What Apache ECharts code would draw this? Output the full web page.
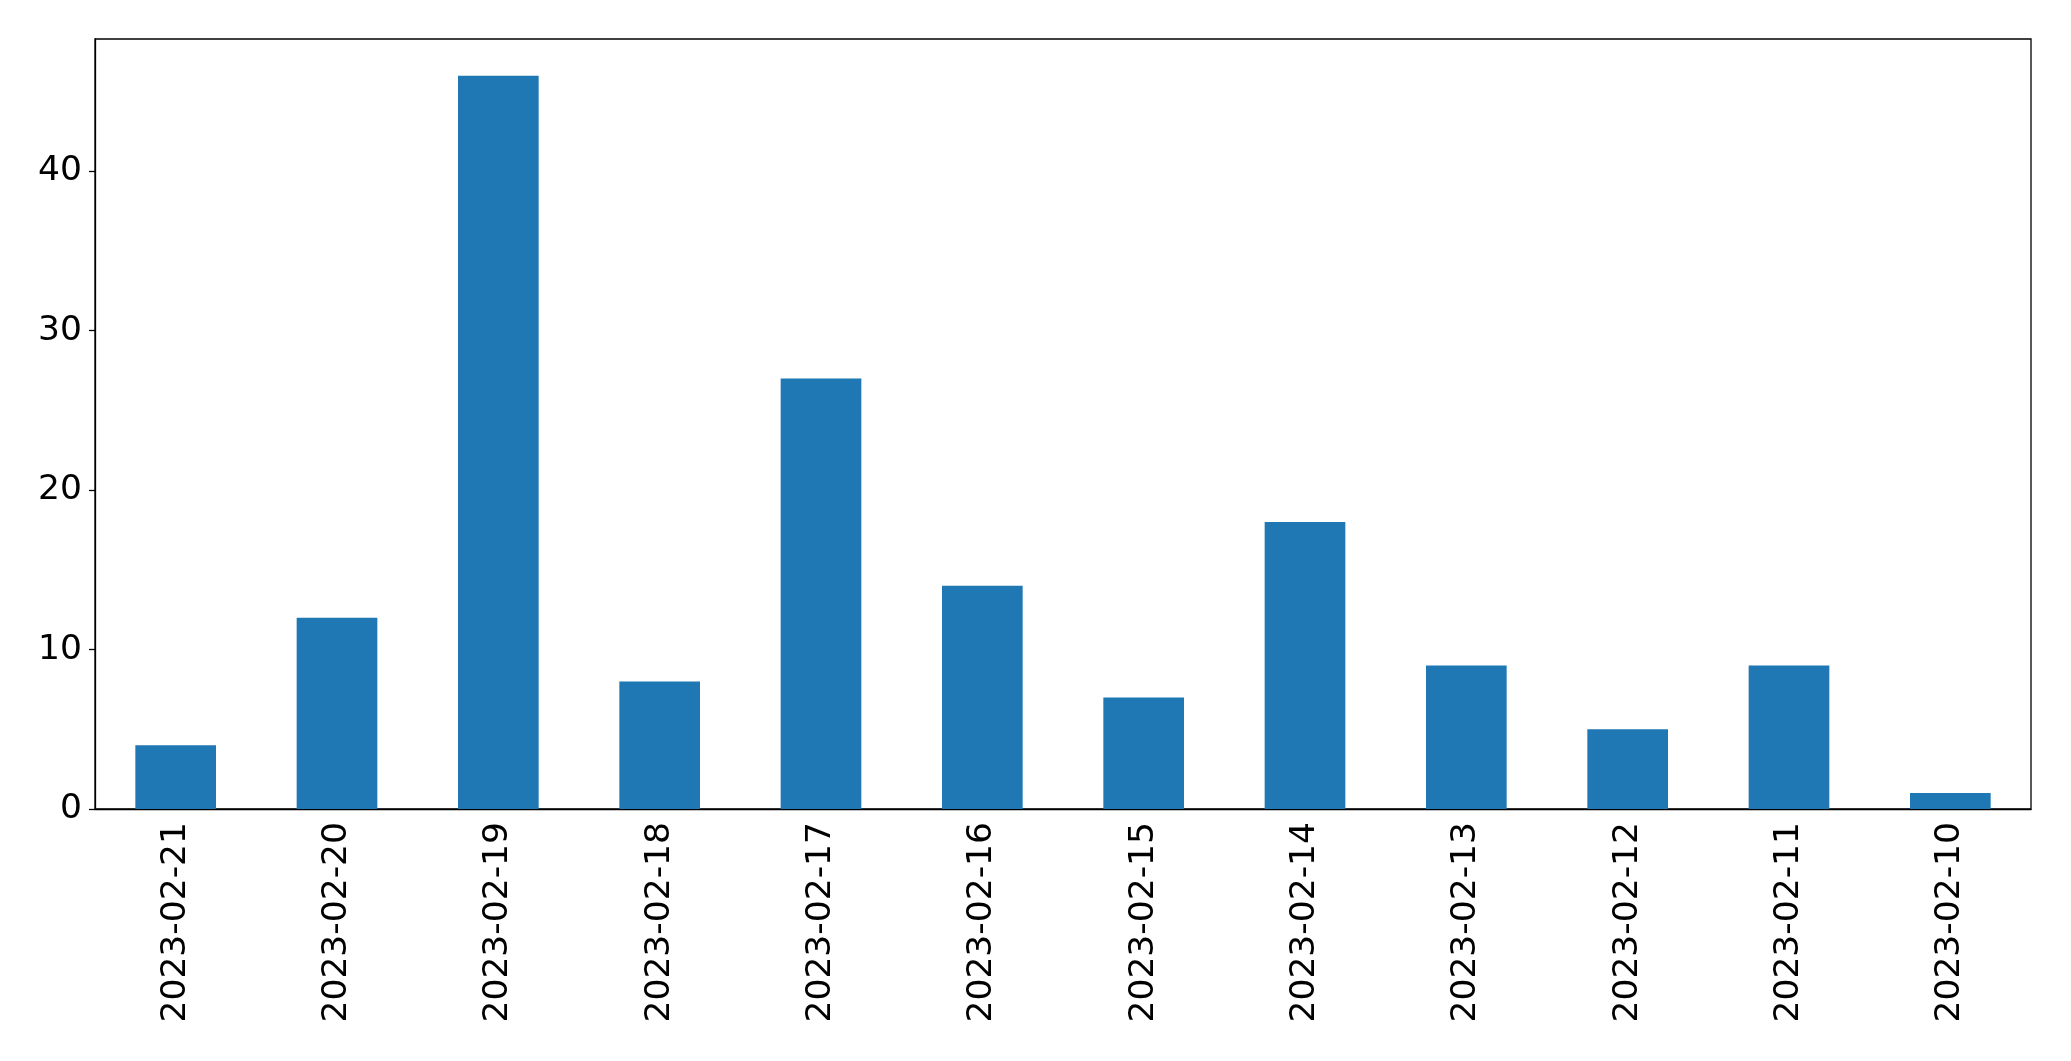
<!DOCTYPE html>
<html><head><meta charset="utf-8">
<script src="https://cdn.jsdelivr.net/npm/echarts@6/dist/echarts.min.js"></script>
<style>html,body{margin:0;padding:0;background:#fff}#c{width:2071px;height:1061px}</style>
</head><body><div id="c"></div>
<script>
const categories = ['2023-02-21','2023-02-20','2023-02-19','2023-02-18','2023-02-17','2023-02-16','2023-02-15','2023-02-14','2023-02-13','2023-02-12','2023-02-11','2023-02-10'];
const values = [4, 12, 46, 8, 27, 14, 7, 18, 9, 5, 9, 1];
const yTicks = [0, 10, 20, 30, 40];

const chart = echarts.init(document.getElementById('c'));
chart.setOption({
  animation: false,
  grid: {left: 95, top: 39, width: 1936, height: 770, show: true, borderColor: '#000', borderWidth: 1.3, backgroundColor: 'transparent'},
  xAxis: {
    type: 'category', data: categories, boundaryGap: true,
    axisLine: {lineStyle: {color: '#000', width: 1.3}},
    axisTick: {alignWithLabel: true, length: 6, lineStyle: {color: '#000', width: 1.3}},
    axisLabel: {rotate: 90, margin: 13, color: '#000', fontFamily: 'DejaVu Sans', fontSize: 34.5, interval: 0}
  },
  yAxis: {
    type: 'value', min: 0, max: 48.3, interval: 10,
    splitLine: {show: false},
    axisLine: {show: true, lineStyle: {color: '#000', width: 1.3}},
    axisTick: {show: true, length: 6, customValues: yTicks, lineStyle: {color: '#000', width: 1.3}},
    axisLabel: {margin: 13, color: '#000', fontFamily: 'DejaVu Sans', fontSize: 34.5, customValues: yTicks}
  },
  series: [{
    type: 'bar', data: values, barWidth: '50%',
    itemStyle: {color: '#1f77b4'}
  }]
});
</script></body></html>
